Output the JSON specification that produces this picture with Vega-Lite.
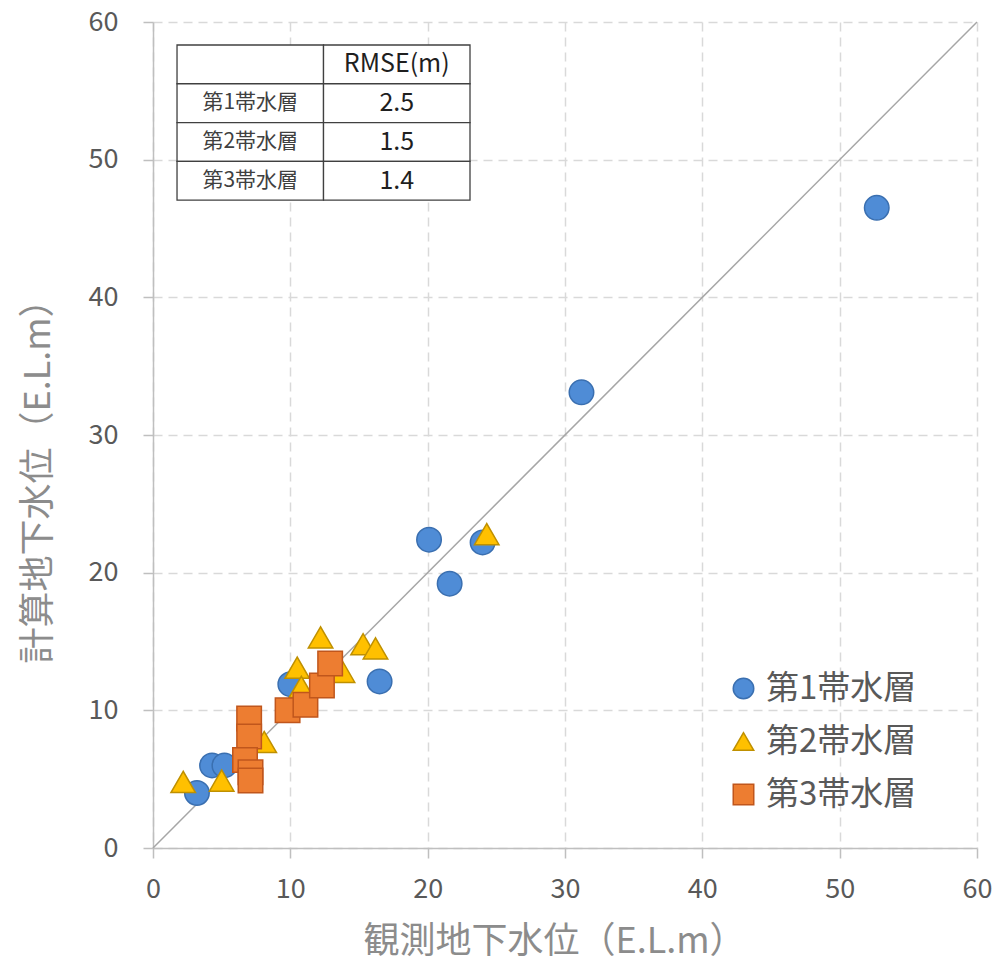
{
  "$schema": "https://vega.github.io/schema/vega-lite/v6.json",
  "width": 824,
  "height": 826,
  "autosize": {"type": "none"},
  "padding": {"left": 153, "top": 22, "right": 18, "bottom": 114},
  "background": "white",
  "config": {
    "view": {"stroke": null},
    "font": "Noto Sans CJK JP",
    "axis": {
      "labelFont": "Noto Sans CJK JP",
      "titleFont": "Noto Sans CJK JP",
      "labelFlush": false
    }
  },
  "datasets": {
    "points": [
      {"layer": "第1帯水層", "obs": 52.7, "calc": 46.5},
      {"layer": "第1帯水層", "obs": 31.2, "calc": 33.1},
      {"layer": "第1帯水層", "obs": 20.1, "calc": 22.4},
      {"layer": "第1帯水層", "obs": 21.6, "calc": 19.2},
      {"layer": "第1帯水層", "obs": 24.0, "calc": 22.2},
      {"layer": "第1帯水層", "obs": 16.5, "calc": 12.1},
      {"layer": "第1帯水層", "obs": 10.0, "calc": 11.9},
      {"layer": "第1帯水層", "obs": 4.3, "calc": 6.0},
      {"layer": "第1帯水層", "obs": 5.2, "calc": 6.0},
      {"layer": "第1帯水層", "obs": 3.2, "calc": 4.0},
      {"layer": "第2帯水層", "obs": 24.3, "calc": 22.8},
      {"layer": "第2帯水層", "obs": 2.2, "calc": 4.8},
      {"layer": "第2帯水層", "obs": 5.0, "calc": 4.9},
      {"layer": "第2帯水層", "obs": 8.1, "calc": 7.7},
      {"layer": "第2帯水層", "obs": 10.5, "calc": 13.1},
      {"layer": "第2帯水層", "obs": 10.8, "calc": 11.7},
      {"layer": "第2帯水層", "obs": 12.2, "calc": 15.3},
      {"layer": "第2帯水層", "obs": 13.8, "calc": 12.8},
      {"layer": "第2帯水層", "obs": 15.3, "calc": 14.8},
      {"layer": "第2帯水層", "obs": 16.2, "calc": 14.5},
      {"layer": "第3帯水層", "obs": 7.0, "calc": 9.4},
      {"layer": "第3帯水層", "obs": 7.0, "calc": 8.1},
      {"layer": "第3帯水層", "obs": 6.7, "calc": 6.4},
      {"layer": "第3帯水層", "obs": 7.1, "calc": 5.5},
      {"layer": "第3帯水層", "obs": 7.1, "calc": 4.9},
      {"layer": "第3帯水層", "obs": 9.8, "calc": 10.0},
      {"layer": "第3帯水層", "obs": 11.1, "calc": 10.4},
      {"layer": "第3帯水層", "obs": 12.3, "calc": 11.8},
      {"layer": "第3帯水層", "obs": 12.9, "calc": 13.4}
    ],
    "diag": [
      {"obs": 0, "calc": 0},
      {"obs": 60, "calc": 60}
    ],
    "table": [
      {"row": 0, "col": 0, "text": ""},
      {"row": 0, "col": 1, "text": "RMSE(m)"},
      {"row": 1, "col": 0, "text": "第1帯水層"},
      {"row": 1, "col": 1, "text": "2.5"},
      {"row": 2, "col": 0, "text": "第2帯水層"},
      {"row": 2, "col": 1, "text": "1.5"},
      {"row": 3, "col": 0, "text": "第3帯水層"},
      {"row": 3, "col": 1, "text": "1.4"}
    ]
  },
  "layer": [
    {
      "layer": [
        {
          "data": {"name": "diag"},
          "mark": {"type": "line", "color": "#A6A6A6", "strokeWidth": 1.5},
          "encoding": {
            "x": {
              "field": "obs", "type": "quantitative",
              "scale": {"domain": [0, 60], "nice": false},
              "axis": {
                "title": "観測地下水位（E.L.m）",
                "values": [0, 10, 20, 30, 40, 50, 60],
                "grid": true, "gridColor": "#D9D9D9", "gridDash": [9, 6], "gridWidth": 1.5,
                "domainColor": "#BFBFBF", "domainWidth": 1.5,
                "tickColor": "#BFBFBF", "tickSize": 10, "tickWidth": 1.5,
                "labelFontSize": 27, "labelColor": "#595959", "labelPadding": 18, "labelFlush": false,
                "titleFontSize": 36, "titleColor": "#8C8C8C", "titleFontWeight": "normal",
                "titleX": 401, "titleY": 93, "titleBaseline": "middle", "titleAlign": "center"
              }
            },
            "y": {
              "field": "calc", "type": "quantitative",
              "scale": {"domain": [0, 60], "nice": false},
              "axis": {
                "title": "計算地下水位（E.L.m）",
                "values": [0, 10, 20, 30, 40, 50, 60],
                "grid": true, "gridColor": "#D9D9D9", "gridDash": [9, 6], "gridWidth": 1.5,
                "domainColor": "#BFBFBF", "domainWidth": 1.5,
                "tickColor": "#BFBFBF", "tickSize": 10, "tickWidth": 1.5,
                "labelFontSize": 27, "labelColor": "#595959", "labelPadding": 25, "labelFlush": false,
                "titleFontSize": 36, "titleColor": "#8C8C8C", "titleFontWeight": "normal",
                "titleX": -115, "titleY": 450, "titleBaseline": "middle", "titleAlign": "center", "titleAngle": 270
              }
            }
          }
        },
        {
          "data": {"name": "points"},
          "mark": {"type": "point", "filled": true, "strokeWidth": 1.5, "opacity": 1, "size": 600},
          "encoding": {
            "x": {"field": "obs", "type": "quantitative"},
            "y": {"field": "calc", "type": "quantitative"},
            "color": {
              "field": "layer", "type": "nominal",
              "scale": {"domain": ["第1帯水層", "第2帯水層", "第3帯水層"], "range": ["#4F8CD6", "#FFC000", "#ED7D31"]},
              "legend": {
                "title": null, "orient": "none", "legendX": 574, "legendY": 650,
                "labelFontSize": 33, "labelColor": "#595959", "labelFont": "Noto Sans CJK JP",
                "symbolSize": 420, "symbolStrokeWidth": 1.5, "rowPadding": 19, "labelOffset": 6
              }
            },
            "shape": {
              "field": "layer", "type": "nominal",
              "scale": {"domain": ["第1帯水層", "第2帯水層", "第3帯水層"], "range": ["circle", "triangle-up", "square"]}
            },
            "stroke": {
              "field": "layer", "type": "nominal",
              "scale": {"domain": ["第1帯水層", "第2帯水層", "第3帯水層"], "range": ["#3A6FB0", "#BF9000", "#C0561C"]}
            }
          }
        }
      ]
    },
    {
      "data": {"name": "table"},
      "transform": [
        {"calculate": "datum.col + 1", "as": "col2"},
        {"calculate": "datum.row + 1", "as": "row2"},
        {"calculate": "datum.col + 0.5", "as": "colm"},
        {"calculate": "datum.row + 0.5", "as": "rowm"}
      ],
      "layer": [
        {
          "mark": {"type": "rect", "fill": "white", "stroke": "#404040", "strokeWidth": 1.3},
          "encoding": {
            "x": {"field": "col", "type": "quantitative", "scale": {"domain": [-0.164, 5.461], "nice": false, "zero": false}, "axis": null},
            "x2": {"field": "col2"},
            "y": {"field": "row", "type": "quantitative", "scale": {"domain": [-0.594, 20.72], "nice": false, "zero": false, "reverse": true}, "axis": null},
            "y2": {"field": "row2"}
          }
        },
        {
          "mark": {"type": "text", "align": "center", "baseline": "middle", "font": "Noto Sans CJK JP"},
          "encoding": {
            "x": {"field": "colm", "type": "quantitative"},
            "y": {"field": "rowm", "type": "quantitative"},
            "text": {"field": "text"},
            "size": {"condition": {"test": "datum.col == 0", "value": 21}, "value": 25},
            "color": {"condition": {"test": "datum.col == 0", "value": "#404040"}, "value": "#1F1F1F"}
          }
        }
      ]
    }
  ],
  "resolve": {"scale": {"x": "independent", "y": "independent"}}
}
